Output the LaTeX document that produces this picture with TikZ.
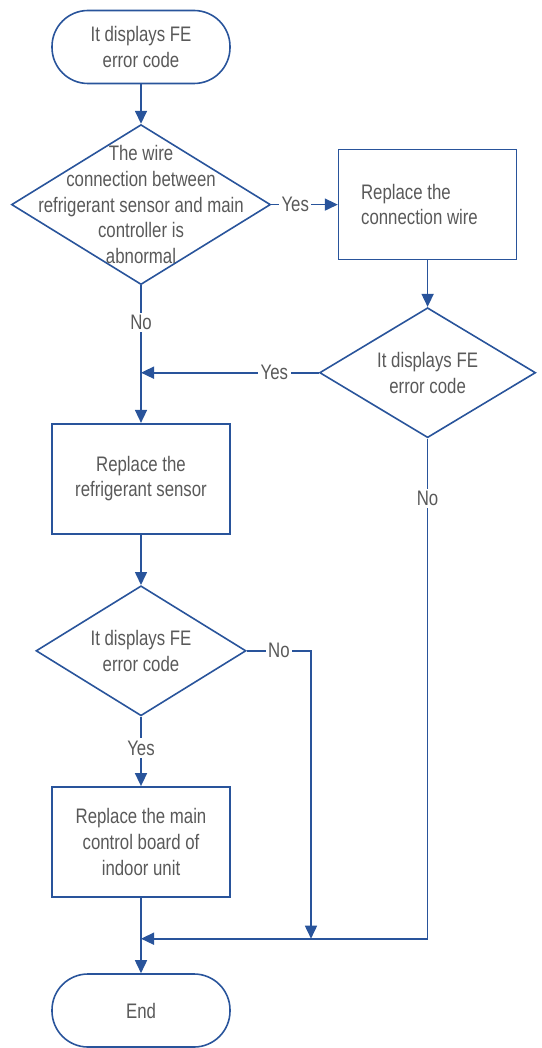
\documentclass[tikz,border=0pt]{standalone}
\usepackage{fontspec}
\setmainfont{Liberation Sans}[FakeStretch=0.8]
\usepackage{xcolor}
\usetikzlibrary{positioning,arrows.meta,shapes.geometric}
\definecolor{lineblue}{RGB}{41,84,155}
\definecolor{txtgray}{RGB}{89,89,89}

\begin{document}
\begin{tikzpicture}[
  x=1pt, y=1pt,
  font=\fontsize{21}{25.7}\selectfont, text=txtgray,
  term/.style={draw=lineblue, line width=1.6pt, rounded corners=36pt, align=center, minimum width=178pt, minimum height=73pt},
  box/.style={draw=lineblue, line width=1.6pt, align=center, minimum width=178pt, minimum height=110pt},
  decision/.style={diamond, aspect=1.62, draw=lineblue, line width=1.6pt, align=center, inner sep=0pt, minimum width=210pt, minimum height=130pt},
  lbl/.style={fill=white, inner sep=2.5pt},
  arr/.style={-{Triangle[length=13pt,width=12pt]}, draw=lineblue, line width=1.6pt}
]
  \useasboundingbox (0,0) rectangle (541,-1048);
  \node[term] (start) at (141,-47) {It displays FE\\error code};
  \node[decision, minimum width=259pt, minimum height=160pt, below=39.5pt of start,
    label={[align=center]center:The wire\\connection between\\refrigerant sensor and main\\controller is\\abnormal}] (wire) {};
  \node[box, align=flush left, text width=133pt, right=66.5pt of wire] (rewire) {Replace the\\connection wire};
  \node[decision, minimum width=216pt, below=46.5pt of rewire] (check1) {It displays FE\\error code};
  \node[box, below=137.5pt of wire] (sensor) {Replace the\\refrigerant sensor};
  \node[decision, below=50.5pt of sensor] (check2) {It displays FE\\error code};
  \node[box, below=69.5pt of check2] (board) {Replace the main\\control board of\\indoor unit};
  \node[term, below=75.5pt of board] (end) {End};
  \coordinate (join1) at (wire.south |- check1.west);
  \coordinate[below=41pt of board.south] (join2);
  \coordinate[right=170pt of join2] (join3);
  \draw[arr] (start) -- (wire);
  \draw[arr] (wire) -- node[lbl, pos=0.36]{Yes} (rewire);
  \draw[arr] (rewire) -- (check1);
  \draw[arr] (wire) -- node[lbl, pos=0.27]{No} (sensor);
  \draw[arr] (check1.west) -- node[lbl, pos=0.25]{Yes} (join1);
  \draw[arr] (sensor) -- (check2);
  \draw[arr] (check2) -- node[lbl, pos=0.45]{Yes} (board);
  \draw[arr] (check2.east) -| node[lbl, pos=0.25]{No} (join3);
  \draw[arr] (check1.south) |- node[lbl, pos=0.06]{No} (join2);
  \draw[arr] (board) -- (end);
\end{tikzpicture}
\end{document}
